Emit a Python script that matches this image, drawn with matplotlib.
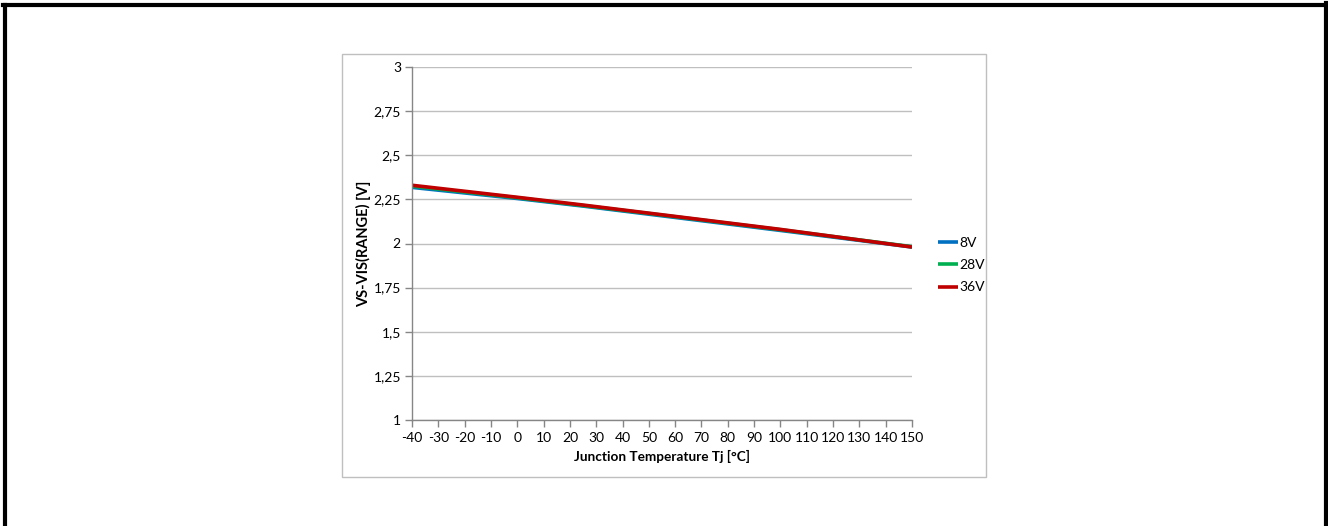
import matplotlib
matplotlib.use("Agg")
import matplotlib.pyplot as plt
from matplotlib.patches import Rectangle
from matplotlib.lines import Line2D
from matplotlib.ticker import FuncFormatter

temps = [-40, 0, 25, 50, 100, 150]
v8 = [2.318, 2.255, 2.212, 2.166, 2.074, 1.980]
v28 = [2.325, 2.259, 2.215, 2.170, 2.078, 1.982]
v36 = [2.330, 2.262, 2.218, 2.172, 2.080, 1.980]
series = [("8V", v8, "#0070C0"), ("28V", v28, "#00B050"), ("36V", v36, "#C00000")]
xticks = list(range(-40, 151, 10))
yticks = [1, 1.25, 1.5, 1.75, 2, 2.25, 2.5, 2.75, 3]

plt.rcParams['font.family'] = ['Lato', 'DejaVu Sans']
plt.rcParams['axes.unicode_minus'] = False
W, H = 1328, 526
fig = plt.figure(figsize=(W / 100, H / 100), dpi=100)

def fx(px):
    return px / W

def fy(py):
    return 1 - py / H

# outer black border (left, top, right)
fig.add_artist(Line2D([fx(4.5), fx(4.5)], [fy(4.5), 0], color="black", lw=3, transform=fig.transFigure))
fig.add_artist(Line2D([fx(3), fx(1325)], [fy(4.5), fy(4.5)], color="black", lw=3, transform=fig.transFigure))
fig.add_artist(Line2D([fx(1325.5), fx(1325.5)], [fy(3), 0], color="black", lw=3, transform=fig.transFigure))

# chart box
fig.add_artist(Rectangle((fx(342), fy(477)), fx(986) - fx(342), fy(54) - fy(477),
                         fill=False, edgecolor="#BFBFBF", lw=1.0, transform=fig.transFigure))

ax = fig.add_axes([fx(412), fy(420), fx(912) - fx(412), fy(67) - fy(420)])
for name, vals, col in series:
    ax.plot(temps, vals, color=col, lw=2.6, label=name, solid_capstyle="butt")

ax.set_xlim(-40, 150)
ax.set_ylim(1, 3)
ax.set_xticks(xticks)
ax.set_yticks(yticks)
ax.yaxis.set_major_formatter(FuncFormatter(lambda v, p: ("%g" % v).replace(".", ",")))
ax.grid(axis="y", color="#BFBFBF", lw=1.0)
ax.set_axisbelow(True)
for s in ["top", "right"]:
    ax.spines[s].set_visible(False)
for s in ["left", "bottom"]:
    ax.spines[s].set_color("#868686")
    ax.spines[s].set_linewidth(1.0)
ax.tick_params(axis="both", colors="#868686", length=5, width=1, labelcolor="black", labelsize=10)
ax.tick_params(axis="x", pad=4)
ax.tick_params(axis="y", pad=3)
ax.set_xlabel("Junction Temperature Tj [°C]", fontsize=9.8, fontweight="bold", labelpad=4)
ax.set_ylabel("VS-VIS(RANGE) [V]", fontsize=10.5, fontweight="bold", labelpad=2)

leg = ax.legend(loc="center left", frameon=False,
                fontsize=10, handlelength=1.5, handletextpad=0.1, labelspacing=0.75,
                borderaxespad=0, bbox_to_anchor=(fx(932), fy(265)),
                bbox_transform=fig.transFigure)
for h in leg.legend_handles:
    h.set_linewidth(2.6)

fig.savefig("out.png", dpi=100)
